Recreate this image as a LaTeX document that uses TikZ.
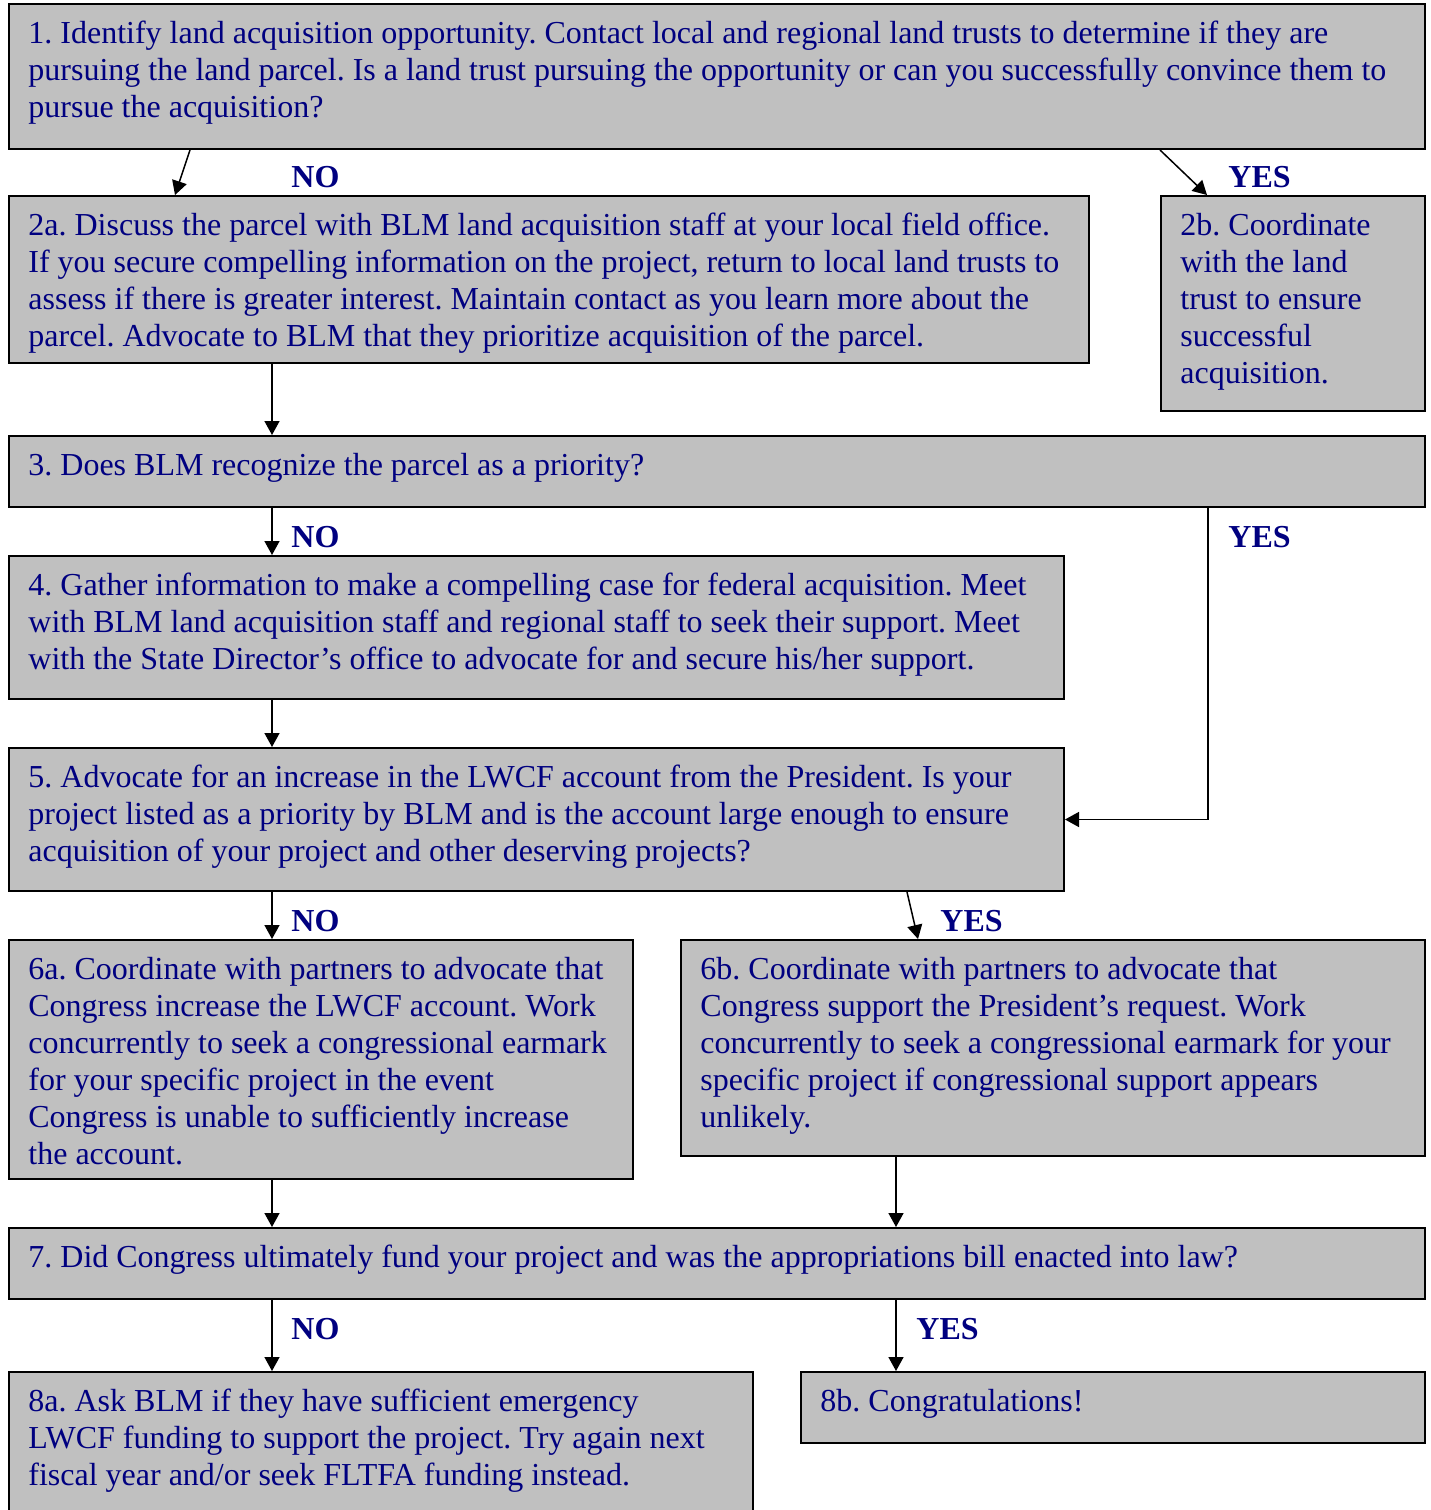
\documentclass[tikz,border=0pt]{standalone}
\usepackage{fontspec}
\setmainfont{Liberation Serif}
\frenchspacing
\usetikzlibrary{calc,arrows.meta}
\definecolor{boxgray}{HTML}{C0C0C0}
\definecolor{inknavy}{HTML}{000080}

\begin{document}
\begin{tikzpicture}[x=0.5pt,y=-0.5pt,
  stage/.style={draw,line width=1pt,fill=boxgray,anchor=north west,inner sep=0pt},
  note/.style={anchor=north west,align=left,text=inknavy,inner xsep=10pt,inner ysep=9pt,font=\fontsize{16}{18.5}\selectfont},
  answer/.style={anchor=base west,text=inknavy,inner sep=0pt,font=\fontsize{16}{18.5}\selectfont\bfseries},
  arrow/.style={-{Triangle[length=7pt,width=7.5pt]},line width=0.75pt}]
  \useasboundingbox (0,0) rectangle (1430,1510);

  \node[stage,minimum width=708pt,minimum height=72.5pt] (ident) at (8,3) {};
  \node[stage,minimum width=540pt,minimum height=83.5pt] (acq) at (8,195) {};
  \node[stage,minimum width=132pt,minimum height=107.5pt] (trust) at (1160,195) {};
  \node[stage,minimum width=708pt,minimum height=35.5pt] (priority) at (8,435) {};
  \node[stage,minimum width=527.5pt,minimum height=71.5pt] (gather) at (8,555) {};
  \node[stage,minimum width=527.5pt,minimum height=71.5pt] (advocate) at (8,747) {};
  \node[stage,minimum width=312pt,minimum height=119.5pt] (partners) at (8,939) {};
  \node[stage,minimum width=372pt,minimum height=108pt] (request) at (680,939) {};
  \node[stage,minimum width=708pt,minimum height=35.5pt] (fund) at (8,1227) {};
  \node[stage,minimum width=372pt,minimum height=90pt] (emergency) at (8,1371) {};
  \node[stage,minimum width=312pt,minimum height=35.5pt] (congrats) at (800,1371) {};

  \node[note] (ident text) at (ident.north west) {1. Identify land acquisition opportunity. Contact local and regional land trusts to determine if they are\\pursuing the land parcel. Is a land trust pursuing the opportunity or can you successfully convince them to\\pursue the acquisition?};
  \node[note] (acq text) at (acq.north west) {2a. Discuss the parcel with BLM land acquisition staff at your local field office.\\If you secure compelling information on the project, return to local land trusts to\\assess if there is greater interest. Maintain contact as you learn more about the\\parcel. Advocate to BLM that they prioritize acquisition of the parcel.};
  \node[note] (trust text) at (trust.north west) {2b. Coordinate\\with the land\\trust to ensure\\successful\\acquisition.};
  \node[note] (priority text) at (priority.north west) {3. Does BLM recognize the parcel as a priority?};
  \node[note] (gather text) at (gather.north west) {4. Gather information to make a compelling case for federal acquisition. Meet\\with BLM land acquisition staff and regional staff to seek their support. Meet\\with the State Director’s office to advocate for and secure his/her support.};
  \node[note] (advocate text) at (advocate.north west) {5. Advocate for an increase in the LWCF account from the President. Is your\\project listed as a priority by BLM and is the account large enough to ensure\\acquisition of your project and other deserving projects?};
  \node[note] (partners text) at (partners.north west) {6a. Coordinate with partners to advocate that\\Congress increase the LWCF account. Work\\concurrently to seek a congressional earmark\\for your specific project in the event\\Congress is unable to sufficiently increase\\the account.};
  \node[note] (request text) at (request.north west) {6b. Coordinate with partners to advocate that\\Congress support the President’s request. Work\\concurrently to seek a congressional earmark for your\\specific project if congressional support appears\\unlikely.};
  \node[note] (fund text) at (fund.north west) {7. Did Congress ultimately fund your project and was the appropriations bill enacted into law?};
  \node[note] (emergency text) at (emergency.north west) {8a. Ask BLM if they have sufficient emergency\\LWCF funding to support the project. Try again next\\fiscal year and/or seek FLTFA funding instead.};
  \node[note] (congrats text) at (congrats.north west) {8b. Congratulations!};

  \node[answer] (no1) at (291,187) {NO};
  \node[answer] (yes1) at (1228,187) {YES};
  \node[answer] (no3) at (291,547) {NO};
  \node[answer] (yes3) at (1228,547) {YES};
  \node[answer] (no5) at (291,931) {NO};
  \node[answer] (yes5) at (940,931) {YES};
  \node[answer] (no7) at (291,1339) {NO};
  \node[answer] (yes7) at (916,1339) {YES};

  \draw[arrow] ($(ident.south west)+(182,0)$) -- ($(acq.north west)+(167,0)$);
  \draw[arrow] ($(ident.south west)+(1152,0)$) -- ($(trust.north west)+(47,0)$);
  \draw[arrow] ($(acq.south west)+(264,0)$) -- ($(priority.north west)+(264,0)$);
  \draw[arrow] ($(priority.south west)+(264,0)$) -- ($(gather.north west)+(264,0)$);
  \draw[arrow] ($(priority.south west)+(1200,0)$) |- (advocate.east);
  \draw[arrow] ($(gather.south west)+(264,0)$) -- ($(advocate.north west)+(264,0)$);
  \draw[arrow] ($(advocate.south west)+(264,0)$) -- ($(partners.north west)+(264,0)$);
  \draw[arrow] ($(advocate.south west)+(899,0)$) -- ($(request.north west)+(238,0)$);
  \draw[arrow] ($(partners.south west)+(264,0)$) -- ($(fund.north west)+(264,0)$);
  \draw[arrow] ($(request.south west)+(216,0)$) -- ($(fund.north west)+(888,0)$);
  \draw[arrow] ($(fund.south west)+(264,0)$) -- ($(emergency.north west)+(264,0)$);
  \draw[arrow] ($(fund.south west)+(888,0)$) -- ($(congrats.north west)+(96,0)$);
\end{tikzpicture}
\end{document}
